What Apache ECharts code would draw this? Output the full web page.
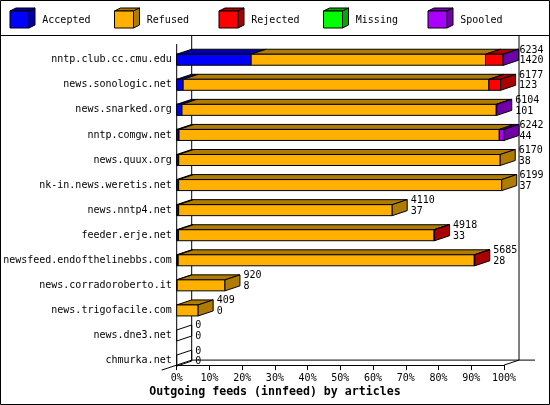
<!DOCTYPE html>
<html><head><meta charset="utf-8">
<script src="https://cdn.jsdelivr.net/npm/echarts/dist/echarts.min.js"></script>
<style>html,body{margin:0;padding:0;background:#fff}#c{width:550px;height:405px}</style>
</head><body><div id="c"></div>
<script>
const categories = ['nntp.club.cc.cmu.edu','news.sonologic.net','news.snarked.org','nntp.comgw.net','news.quux.org','nk-in.news.weretis.net','news.nntp4.net','feeder.erje.net','newsfeed.endofthelinebbs.com','news.corradoroberto.it','news.trigofacile.com','news.dne3.net','chmurka.net'];
const totals   = [6234,6177,6104,6242,6170,6199,4110,4918,5685,920,409,0,0];
const accepted = [1420,123,101,44,38,37,37,33,28,8,0,0,0];
const refused  = [4470,5831,5993,6108,6132,6162,4073,4875,5647,912,409,0,0];
const rejected = [334,223,0,0,0,0,0,10,10,0,0,0,0];
const missing  = [0,0,0,0,0,0,0,0,0,0,0,0,0];
const spooled  = [10,0,10,90,0,0,0,0,0,0,0,0,0];
const seriesNames = ['Accepted','Refused','Rejected','Missing','Spooled'];
const tickLabels = ['0%','10%','20%','30%','40%','50%','60%','70%','80%','90%','100%'];
const titleText = 'Outgoing feeds (innfeed) by articles';

const frontColors = ['#0000ff','#ffb000','#ff0000','#00ff00','#aa00ff'];
const darkColors  = ['#0000aa','#b07c00','#aa0000','#00aa00','#7000a8'];
const FONT = '"DejaVu Sans Mono", "Liberation Mono", monospace';
const DX = 15, DY = 5, BH = 11, AXOFF = 8;

const maxTotal = Math.max(...totals);
const segArrays = [accepted, refused, rejected, missing, spooled];
const rows = categories.map((c, i) => [i].concat(segArrays.map(a => a[i] / maxTotal * 100)).concat([totals[i], accepted[i]]));

function renderBars(params, api) {
  const i = api.value(0);
  const base = api.coord([0, i]);
  const yc = base[1];
  const yt = yc - BH / 2, yb = yc + BH / 2;
  const children = [];
  const segs = [1,2,3,4,5].map(k => api.value(k));
  const tot = segs.reduce((a, b) => a + b, 0);
  const stroke = {stroke: '#000', lineWidth: 1};
  let xe = base[0];
  if (tot === 0) {
    const x0 = base[0];
    children.push({type: 'polyline', shape: {points: [[x0, yb], [x0, yt], [x0 + DX, yt - DY], [x0 + DX, yb - DY], [x0, yb]]},
      style: {stroke: '#000', lineWidth: 1, fill: null}});
  } else {
    let cum = 0, last = 0;
    segs.forEach((v, k) => {
      if (v <= 0) return;
      const xa = api.coord([cum, i])[0];
      const xb = api.coord([cum + v, i])[0];
      children.push({type: 'polygon', shape: {points: [[xa, yt], [xb, yt], [xb + DX, yt - DY], [xa + DX, yt - DY]]},
        style: Object.assign({fill: darkColors[k]}, stroke)});
      children.push({type: 'rect', shape: {x: xa, y: yt, width: xb - xa, height: BH},
        style: Object.assign({fill: frontColors[k]}, stroke)});
      cum += v; last = k;
    });
    xe = api.coord([cum, i])[0];
    children.push({type: 'polygon', shape: {points: [[xe, yt], [xe + DX, yt - DY], [xe + DX, yb - DY], [xe, yb]]},
      style: Object.assign({fill: darkColors[last]}, stroke)});
  }
  children.push({type: 'text', style: {text: api.value(6) + '\n' + api.value(7), x: Math.min(xe + 18.5, 519.5), y: yc - 15,
    font: '10px ' + FONT, fill: '#000', lineHeight: 10.7, verticalAlign: 'top', align: 'left'}});
  return {type: 'group', children};
}

function renderFrame(params, api) {
  const cs = params.coordSys;
  const gx = cs.x, gr = cs.x + cs.width;
  const fy = cs.y + cs.height - AXOFF;
  const ls = {stroke: '#000', lineWidth: 1};
  const L = (x1, y1, x2, y2) => ({type: 'line', shape: {x1, y1, x2, y2}, style: ls});
  return {type: 'group', children: [
    L(gx, 44, gx, fy),
    L(gx + DX, 36, gx + DX, fy - DY),
    L(gr + DX, 36, gr + DX, fy - DY),
    L(gx + DX, fy - DY, gr + DX + 16, fy - DY),
    L(gx - DX, fy + DY, gx + DX, fy - DY),
    L(gr, fy, gr + DX, fy - DY)
  ]};
}

const graphics = [
  {type: 'rect', shape: {x: 0.5, y: 0.5, width: 549, height: 404}, style: {fill: null, stroke: '#000', lineWidth: 1}, z: 100},
  {type: 'line', shape: {x1: 0, y1: 35.5, x2: 550, y2: 35.5}, style: {stroke: '#000', lineWidth: 1}}
];
seriesNames.forEach((n, k) => {
  const x = 10 + 104.5 * k, y = 11, w = 19, h = 17, dx = 6, dy = 3;
  graphics.push({type: 'polygon', shape: {points: [[x, y], [x + w, y], [x + w + dx, y - dy], [x + dx, y - dy]]}, style: {fill: darkColors[k], stroke: '#000', lineWidth: 1}});
  graphics.push({type: 'polygon', shape: {points: [[x + w, y], [x + w + dx, y - dy], [x + w + dx, y + h - dy], [x + w, y + h]]}, style: {fill: darkColors[k], stroke: '#000', lineWidth: 1}});
  graphics.push({type: 'rect', shape: {x, y, width: w, height: h}, style: {fill: frontColors[k], stroke: '#000', lineWidth: 1}});
  graphics.push({type: 'text', style: {text: n, x: x + 32.3, y: 20, font: '10px ' + FONT, fill: '#000', verticalAlign: 'middle'}});
});

const chart = echarts.init(document.getElementById('c'));
chart.setOption({
  animation: false,
  backgroundColor: '#fff',
  title: {text: titleText, left: 'center', top: 385, padding: 0,
    textStyle: {fontFamily: FONT, fontSize: 11.6, fontWeight: 'bold', color: '#000', lineHeight: 13}},
  grid: {left: 176.7, right: 46, top: 47.2, height: 325.9},
  xAxis: {type: 'value', min: 0, max: 100, interval: 10, offset: -AXOFF,
    axisLine: {show: true, lineStyle: {color: '#000', width: 1}},
    axisTick: {show: true, length: 5, lineStyle: {color: '#000'}},
    splitLine: {show: false},
    axisLabel: {formatter: (v) => tickLabels[Math.round(v / 10)], fontFamily: FONT, fontSize: 10, color: '#000', margin: 8.5}},
  yAxis: {type: 'category', data: categories, inverse: true,
    axisLine: {show: false}, axisTick: {show: false}, splitLine: {show: false},
    axisLabel: {fontFamily: FONT, fontSize: 10, color: '#000', margin: 5}},
  graphic: graphics,
  series: [
    {type: 'custom', name: 'frame', renderItem: renderFrame, data: [[0, 0]], z: 1, silent: true},
    {type: 'custom', name: 'bars', renderItem: renderBars, data: rows, z: 2,
      encode: {y: 0, x: [1, 2, 3, 4, 5]}}
  ]
});
</script></body></html>
